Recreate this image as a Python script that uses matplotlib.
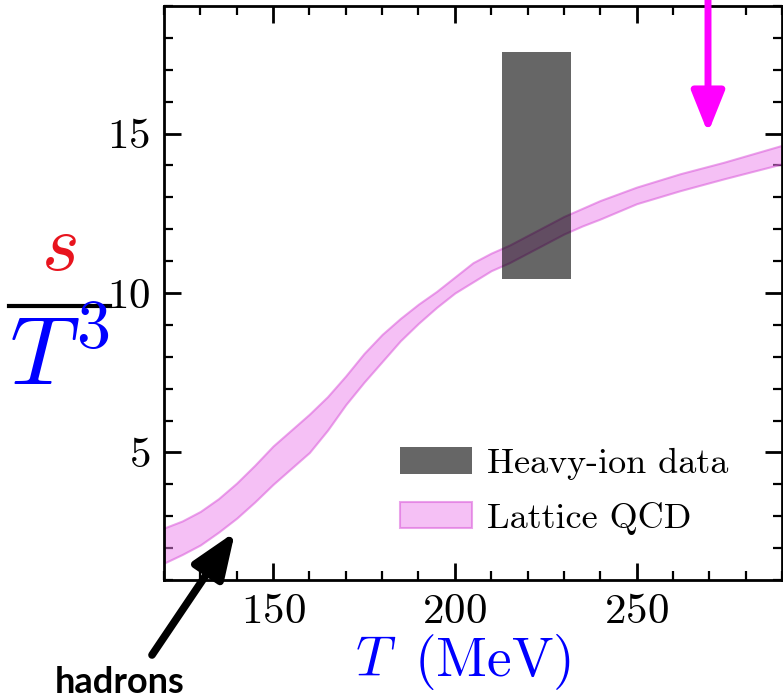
import matplotlib
matplotlib.use('Agg')
import matplotlib.pyplot as plt
from matplotlib.lines import Line2D
from matplotlib.ticker import MultipleLocator

# lattice QCD band (s/T^3)
T_lat = [120, 125, 130, 135, 140, 145, 150, 155, 160, 165, 170, 175, 180, 185, 190, 195,
         200, 205, 210, 215, 220, 225, 230, 235, 240, 250, 262, 274, 290]
s_upper = [2.63, 2.85, 3.15, 3.55, 4.04, 4.6, 5.2, 5.7, 6.2, 6.75, 7.4, 8.1, 8.7, 9.2, 9.65, 10.05,
           10.5, 10.95, 11.25, 11.5, 11.8, 12.1, 12.4, 12.65, 12.9, 13.32, 13.74, 14.1, 14.63]
s_lower = [1.53, 1.8, 2.1, 2.5, 2.94, 3.45, 4.0, 4.5, 5.0, 5.7, 6.5, 7.2, 7.85, 8.5, 9.05, 9.55,
           10.0, 10.35, 10.7, 10.95, 11.25, 11.55, 11.85, 12.1, 12.32, 12.8, 13.21, 13.58, 14.05]

# heavy-ion box
hi_T = [213, 232]
hi_s = [10.45, 17.55]

xticks = [150, 200, 250]
yticks = [5, 10, 15]

plt.rcParams['font.family'] = 'serif'
plt.rcParams['font.serif'] = ['cmr10']
plt.rcParams['mathtext.fontset'] = 'cm'
plt.rcParams['axes.formatter.use_mathtext'] = True

W, H = 783, 698
fig = plt.figure(figsize=(W / 100, H / 100), dpi=100)
ax = fig.add_axes([164 / W, 1 - 580 / H, (782 - 164) / W, (580 - 6) / H])

ax.fill_between(T_lat, s_lower, s_upper, facecolor=(0.93, 0.51, 0.93, 0.5),
                edgecolor=(0.85, 0.35, 0.85, 0.55), lw=1.5,
                label='Lattice QCD', zorder=2)
ax.fill_between(hi_T, [hi_s[0]] * 2, [hi_s[1]] * 2, color='black', alpha=0.6,
                lw=0, label='Heavy-ion data', zorder=3)

ax.set_xlim(120, 290)
ax.set_ylim(1, 19)
ax.set_xticks(xticks)
ax.set_yticks(yticks)
ax.xaxis.set_minor_locator(MultipleLocator(10))
ax.yaxis.set_minor_locator(MultipleLocator(1))
ax.tick_params(which='both', direction='in', top=True, right=True, labelsize=31)
ax.tick_params(which='major', length=12, width=2, pad=10)
ax.tick_params(which='minor', length=6.5, width=1.6)
for sp in ax.spines.values():
    sp.set_linewidth(2)

h, l = ax.get_legend_handles_labels()
ax.legend(h[::-1], l[::-1], loc='center left', bbox_to_anchor=(400 / W, 1 - 491 / H),
          bbox_transform=fig.transFigure, frameon=False, fontsize=26,
          borderpad=0, borderaxespad=0, handletextpad=0.4, labelspacing=0.6,
          handlelength=2.0, handleheight=0.75)

# axis labels
fig.text(463 / W, 1 - 662 / H, r'$T\,$ (MeV)', color='blue', fontsize=40,
         ha='center', va='center')
fig.text(59 / W, 1 - 250 / H, r'$s$', color='#e8141e', fontsize=58,
         ha='center', va='center')
fig.text(59 / W, 1 - 360 / H, r'$T^3$', color='blue', fontsize=70,
         ha='center', va='center')
fig.add_artist(Line2D([9 / W, 110 / W], [1 - 306 / H, 1 - 306 / H], color='black', lw=3))

# arrows
ax.annotate('', xy=(708, H - 133), xycoords='figure pixels', xytext=(708, H + 5),
            textcoords='figure pixels', annotation_clip=False,
            arrowprops=dict(arrowstyle='-|>,head_length=2.5,head_width=1.0', lw=5,
                            color='#ff00ff', shrinkA=0, shrinkB=0, mutation_scale=10))
ax.annotate('', xy=(235, H - 532), xycoords='figure pixels', xytext=(152, H - 655),
            textcoords='figure pixels', annotation_clip=False,
            arrowprops=dict(arrowstyle='-|>,head_length=2.8,head_width=1.1', lw=5.5,
                            color='black', shrinkA=0, shrinkB=0, mutation_scale=10))
fig.text(120 / W, 1 - 693 / H, 'hadrons', family='Lato', weight='bold', fontsize=26,
         ha='center', va='baseline')

fig.savefig('out.png', dpi=100)
